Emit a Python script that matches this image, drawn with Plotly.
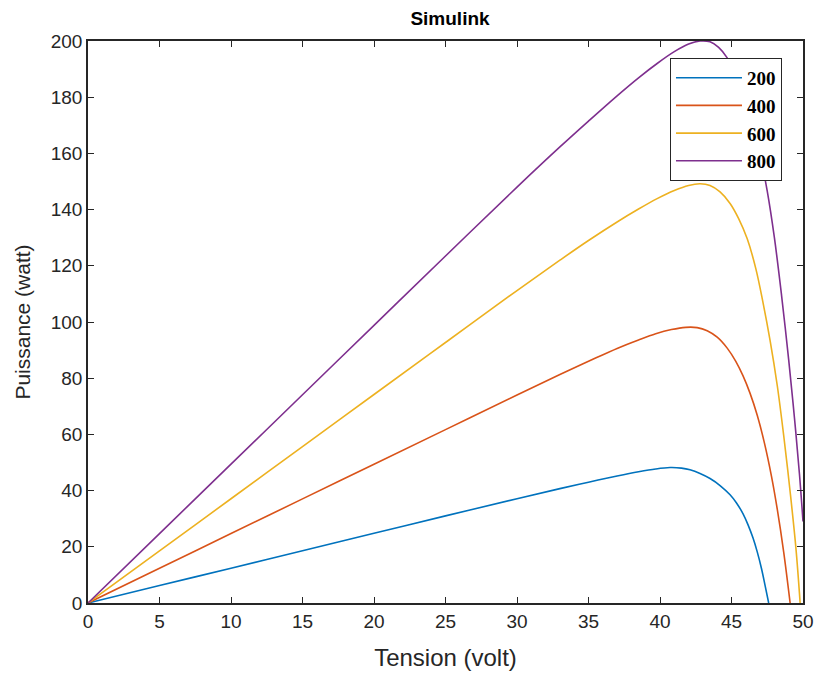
import plotly.graph_objects as go

# ---- data ----
v_200 = [0, 5, 10, 15, 20, 25, 30, 33, 35, 37, 38.5, 39.7, 40.7, 41.5, 42.1, 42.8, 43.5, 44.2, 44.9, 45.35, 45.8, 46.15, 46.5, 46.8, 47.1, 47.35, 47.6]
p_200 = [0, 6.2, 12.4, 18.6, 24.8, 31.0, 37.1, 40.7, 43.0, 45.2, 46.7, 47.7, 48.2, 48.0, 47.4, 46.1, 44.3, 41.8, 38.5, 35.6, 31.8, 27.9, 23.2, 18.2, 12.2, 6.2, 0]

v_400 = [0, 5, 10, 15, 20, 25, 30, 33, 35, 37, 38.5, 39.7, 40.8, 41.8, 42.6, 43.3, 44.0, 44.7, 45.3, 45.8, 46.3, 46.8, 47.3, 47.8, 48.2, 48.65, 49.1]
p_400 = [0, 12.35, 24.7, 37.05, 49.4, 61.7, 74.0, 81.3, 86.0, 90.6, 93.6, 95.8, 97.3, 98.1, 98.0, 96.9, 94.6, 90.7, 86.0, 80.9, 74.6, 66.8, 57.0, 45.0, 33.4, 18.1, 0]

v_600 = [0, 5, 10, 15, 20, 25, 30, 33, 35, 37, 38.5, 39.8, 41.0, 42.0, 42.8, 43.5, 44.2, 44.9, 45.5, 46.1, 46.7, 47.2, 47.7, 48.2, 48.65, 49.1, 49.5, 49.8]
p_600 = [0, 18.55, 37.1, 55.65, 74.2, 92.7, 111.2, 122.0, 129.0, 135.6, 140.2, 143.9, 146.8, 148.6, 149.2, 148.6, 146.3, 142.2, 136.8, 129.6, 119.0, 107.0, 93.4, 77.4, 59.6, 39.6, 19.8, 0]

v_800 = [0, 5, 10, 15, 20, 25, 30, 33, 35, 37, 38.5, 39.8, 41.0, 42.0, 42.8, 43.5, 44.1, 44.7, 45.3, 45.9, 46.5, 47.0, 47.5, 48.0, 48.5, 49.0, 49.4, 49.75, 50.0]
p_800 = [0, 24.7, 49.4, 74.1, 98.8, 123.5, 148.0, 162.3, 171.5, 180.5, 186.9, 192.0, 196.2, 198.9, 200.0, 199.7, 197.7, 194.0, 188.4, 180.6, 170.0, 159.4, 146.6, 130.0, 109.5, 86.5, 66.0, 46.0, 29.0]

series_names = ["200", "400", "600", "800"]
series_v = [v_200, v_400, v_600, v_800]
series_p = [p_200, p_400, p_600, p_800]
colors = ["#0072BD", "#D95319", "#EDB120", "#7E2F8E"]

x_ticks = [0, 5, 10, 15, 20, 25, 30, 35, 40, 45, 50]
y_ticks = [0, 20, 40, 60, 80, 100, 120, 140, 160, 180, 200]

fig = go.Figure()
for name, vv, pp, c in zip(series_names, series_v, series_p, colors):
    fig.add_trace(go.Scatter(x=vv, y=pp, mode="lines", name="<b>" + name + "</b>",
                             line=dict(color=c, width=1.6, shape="spline", smoothing=1.0)))

axis_col = "#262626"
common = dict(showgrid=False, zeroline=False, showline=True, linecolor=axis_col,
              linewidth=1.5, mirror="ticks", ticks="inside", ticklen=6, tickwidth=1,
              tickcolor=axis_col, automargin=False, ticklabeloverflow="allow",
              tickfont=dict(family="Liberation Sans", size=19, color=axis_col))

W, H = 816, 675
fig.update_layout(
    width=W, height=H,
    margin=dict(l=88, r=13, t=41, b=72),
    paper_bgcolor="white", plot_bgcolor="white",
    title=dict(text="<b>Simulink</b>", x=450 / W, xanchor="center",
               y=1 - 18 / H, yanchor="middle",
               font=dict(family="Liberation Sans", size=19, color="#000000")),
    xaxis=dict(range=[0, 50], tickvals=x_ticks,
               title=dict(text="Tension (volt)", standoff=19,
                          font=dict(family="Liberation Sans", size=24, color=axis_col)),
               **common),
    yaxis=dict(range=[0, 200], tickvals=y_ticks,
               title=dict(text="Puissance (watt)", standoff=14,
                          font=dict(family="Liberation Sans", size=21, color=axis_col)),
               **common),
    legend=dict(x=0.9706, y=0.97, xanchor="right", yanchor="top",
                bgcolor="white", bordercolor=axis_col, borderwidth=1,
                itemwidth=66, tracegroupgap=0,
                font=dict(family="Liberation Serif", size=19, color="#000000")),
    showlegend=True,
)

fig.write_html("out.html", config={"displayModeBar": False},
               post_script="document.body.style.margin='0';document.body.style.overflow='hidden';")
